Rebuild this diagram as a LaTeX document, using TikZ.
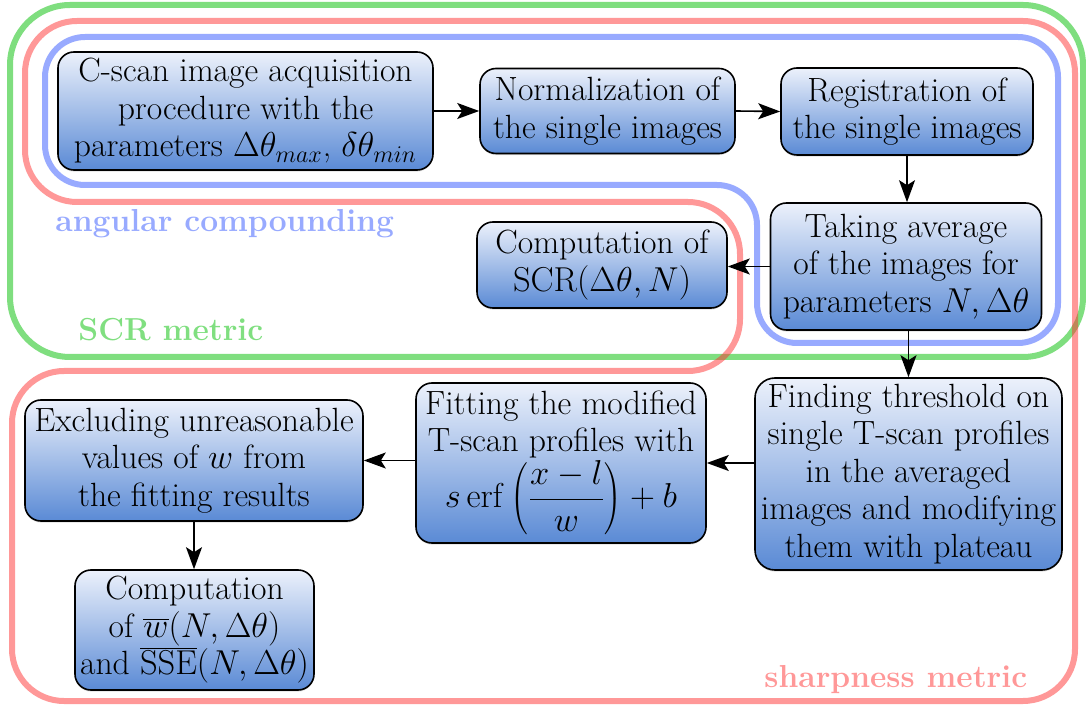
\documentclass[tikz,border=0pt]{standalone}
\usetikzlibrary{arrows.meta,shadows}
\definecolor{gbase}{RGB}{0,190,0}
\definecolor{rbase}{RGB}{255,50,50}
\definecolor{bbase}{RGB}{50,85,255}
\definecolor{boxtop}{RGB}{236,241,251}
\definecolor{boxbot}{RGB}{90,138,213}
\begin{document}
\begin{tikzpicture}[x=0.5pt,y=-0.5pt,
  box/.style={draw=black, line width=0.8pt, rounded corners=8pt,
    top color=boxtop, bottom color=boxbot, align=center, inner sep=1.5pt,
    font=\fontsize{16.8}{18.75}\selectfont,
    drop shadow={opacity=0.25, shadow xshift=0pt, shadow yshift=-0.8pt}},
  arr/.style={-{Stealth[length=11pt,width=8pt,inset=2.5pt]}, line width=0.8pt},
  frame/.style={line width=3pt, draw opacity=0.5},
  lab/.style={font=\fontsize{15.9}{19}\selectfont\bfseries, anchor=base west, inner sep=0pt}]
\useasboundingbox (0,0) rectangle (1086,705);

% frames
\draw[frame, draw=gbase, rounded corners=30pt] (10,5) rectangle (1083,357);
\draw[frame, draw=rbase, rounded corners=26pt] (25,21) -- (1075,21) -- (1075,701) -- (12,701) -- (12,371) -- (740,371) -- (740,202) -- (25,202) -- cycle;
\draw[frame, draw=bbase, rounded corners=20pt] (45,37) -- (1058,37) -- (1058,343) -- (757,343) -- (757,185) -- (45,185) -- cycle;

% labels
\node[lab, text=bbase!50!white] (labac) at (55,232) {angular compounding};
\node[lab, text=gbase!50!white] (labscr) at (78,341) {SCR metric};
\node[lab, text=rbase!50!white] (labsh) at (764,687) {sharpness metric};

% nodes
\node[box, minimum width=187.5pt, minimum height=59pt] (cscan) at (245.5,111)
  {C-scan image acquisition\\procedure with the\\parameters $\Delta\theta_{max}$, $\delta\theta_{min}$};
\node[box, minimum width=127.5pt, minimum height=42.5pt] (norm) at (607.5,111)
  {Normalization of\\the single images};
\node[box, minimum width=126pt, minimum height=43.5pt] (reg) at (907,111.5)
  {Registration of\\the single images};
\node[box, minimum width=135.5pt, minimum height=63.5pt] (avg) at (906,266.5)
  {Taking average\\of the images for\\parameters $N,\Delta\theta$};
\node[box, minimum width=125pt, minimum height=43pt] (scr) at (602,265)
  {Computation of\\$\mathrm{SCR}(\Delta\theta,N)$};
\node[box, minimum width=153.5pt, minimum height=96pt, rounded corners=10pt] (find) at (908.5,474)
  {Finding threshold on\\single T-scan profiles\\in the averaged\\images and modifying\\them with plateau};
\node[box, minimum width=145pt, minimum height=80pt] (fit) at (561,463)
  {Fitting the modified\\T-scan profiles with\\$s\,\mathrm{erf}\left(\displaystyle\frac{x-l}{w}\right)+b$};
\node[box, minimum width=169pt, minimum height=60.5pt] (excl) at (194,460.5)
  {Excluding unreasonable\\values of $w$ from\\the fitting results};
\node[box, minimum width=119.5pt, minimum height=60pt] (compw) at (194.5,630)
  {Computation\\of $\overline{w}(N,\Delta\theta)$\\and $\overline{\mathrm{SSE}}(N,\Delta\theta)$};

% arrows
\draw[arr] (cscan.east |- norm) -- (norm.west);
\draw[arr] (norm.east) -- (reg.west);
\draw[arr] (reg.south) -- (reg.south |- avg.north);
\draw[arr] (avg.west) -- (avg.west -| scr.east);
\draw[arr] (avg.south -| find.north) -- (find.north);
\draw[arr] (find.west |- fit) -- (fit.east);
\draw[arr] (fit.west |- excl) -- (excl.east);
\draw[arr] (excl.south) -- (excl.south |- compw.north);
\end{tikzpicture}
\end{document}
